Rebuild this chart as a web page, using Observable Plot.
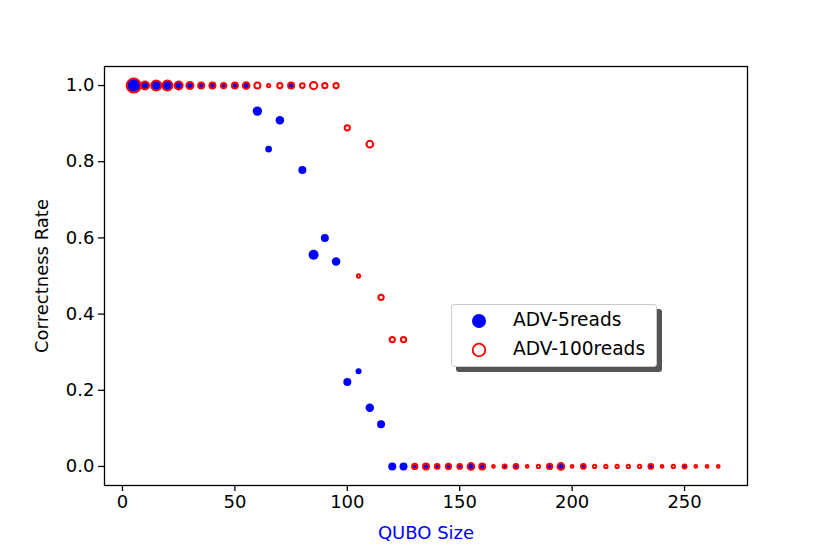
<!DOCTYPE html>
<html>
<head>
<meta charset="utf-8">
<script src="https://cdn.jsdelivr.net/npm/d3@7"></script>
<script src="https://cdn.jsdelivr.net/npm/@observablehq/plot@0.6"></script>
<style>
  body { margin: 0; background: #fff; }
  #wrap { position: relative; width: 830px; height: 554px; font-family: "DejaVu Sans", sans-serif; }
  #legend {
    position: absolute; left: 451px; top: 304px; width: 204px; height: 61px;
    background: #fff; border: 1.5px solid #cccccc; border-radius: 3px;
    box-shadow: 5px 5px 0 #555;
  }
  #legend svg { position: absolute; left: 0; top: 0; }
  #legend .lab { position: absolute; left: 61px; font-size: 18.6px; line-height: 1; color: #000; white-space: nowrap; }
</style>
</head>
<body>
<div id="wrap"></div>
<script>
// ---- data ----
const seriesNames = ["ADV-5reads", "ADV-100reads"];
const xTicks = [0, 50, 100, 150, 200, 250];
const yTicks = [0, 0.2, 0.4, 0.6, 0.8, 1.0];

// ADV-5reads (blue, filled)
const blueX = [5,10,15,20,25,30,35,40,45,50,55,60,65,70,75,80,85,90,95,100,105,110,115,120,125,
               130,135,140,145,150,155,160,170,175,190,195,205,235,250];
const blueY = [1,1,1,1,1,1,1,1,1,1,1,0.933,0.833,0.909,1,0.778,0.556,0.6,0.538,0.222,0.25,0.154,0.111,0,0,
               0,0,0,0,0,0,0,0,0,0,0,0,0,0];
const blueWeight = [42,16,22,22,16,12,8,8,6,8,8,22,11,18,8,16,25,16,18,16,9,18,16,16,16,
                    7,9,5.5,7,5.5,11.2,9,4,5.5,7,11.2,5.5,5.5,4];

// ADV-100reads (red, hollow)
const redX = [5,10,15,20,25,30,35,40,45,50,55,60,65,70,75,80,85,90,95,100,105,110,115,120,125,
              130,135,140,145,150,155,160,165,170,175,180,185,190,195,200,205,210,215,220,225,230,235,240,245,250,255,260,265];
const redY = [1,1,1,1,1,1,1,1,1,1,1,1,1,1,1,1,1,1,1,0.889,0.5,0.846,0.444,0.333,0.333,
              0,0,0,0,0,0,0,0,0,0,0,0,0,0,0,0,0,0,0,0,0,0,0,0,0,0,0,0];
const redWeight = [49,16,25,25,16,12.3,9,9,7,9,11.2,9,2.7,7,9,5.5,13.3,7,7,7,2.7,11.2,7,7,7,
                   7,9,5.5,7,5.5,11.2,9,1.8,4,5.5,1.8,2.7,7,11.2,1.8,5.5,2.7,2.7,2.7,2.7,2.7,5.5,1.8,2.7,4,1.8,1.8,1.8];

const blue = blueX.map((x, i) => ({x, y: blueY[i], w: blueWeight[i]}));
const red = redX.map((x, i) => ({x, y: redY[i], w: redWeight[i]}));

const chart = Plot.plot({
  width: 830,
  height: 554,
  marginLeft: 104,
  marginRight: 83,
  marginTop: 66,
  marginBottom: 69,
  style: { fontFamily: "DejaVu Sans, sans-serif", fontSize: "18px", color: "#000", background: "#fff" },
  x: { domain: [-8, 278] },
  y: { domain: [-0.05, 1.05] },
  r: { type: "sqrt", domain: [0, 64], range: [0, 8] },
  marks: [
    Plot.dot(blue, { x: "x", y: "y", r: "w", fill: "#0000ff", stroke: "none" }),
    Plot.dot(red, { x: "x", y: "y", r: "w", fill: "none", stroke: "#ff0000", strokeWidth: 2 }),
    Plot.frame({ stroke: "#000", strokeWidth: 1.3 }),
    Plot.axisX({ ticks: xTicks, tickSize: 6, tickPadding: 4, strokeWidth: 1.3, fontSize: 18, label: null }),
    Plot.axisY({ ticks: yTicks, tickSize: 6, tickPadding: 4, strokeWidth: 1.3, fontSize: 18, tickFormat: d3.format(".1f"), label: null }),
    Plot.text(["QUBO Size"], { frameAnchor: "bottom", dy: 48, fill: "#0000ff", fontSize: 18, lineAnchor: "middle", textAnchor: "middle" }),
    Plot.text(["Correctness Rate"], { frameAnchor: "left", dx: -62, rotate: -90, fontSize: 18, lineAnchor: "middle", textAnchor: "middle" })
  ]
});

const wrap = document.getElementById("wrap");
wrap.appendChild(chart);

// legend
const lg = document.createElement("div");
lg.id = "legend";
lg.innerHTML = `
<svg width="60" height="61">
  <circle cx="27" cy="16" r="7" fill="#0000ff"/>
  <circle cx="27" cy="45" r="6.3" fill="none" stroke="#ff0000" stroke-width="1.8"/>
</svg>
<div class="lab" style="top:6px">${seriesNames[0]}</div>
<div class="lab" style="top:35px">${seriesNames[1]}</div>`;
wrap.appendChild(lg);
</script>
</body>
</html>
